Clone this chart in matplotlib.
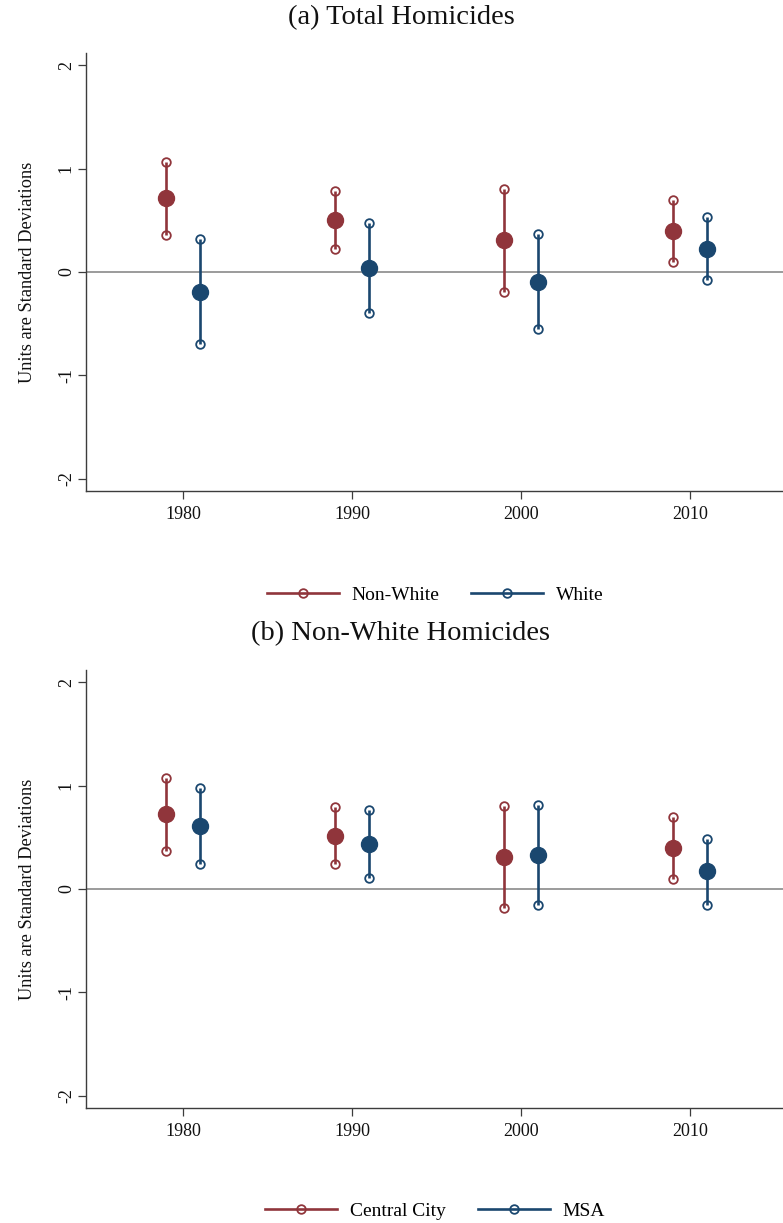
import numpy as np
import matplotlib
matplotlib.use('Agg')
from matplotlib import pyplot as plt
from matplotlib.lines import Line2D

plt.rcParams['font.family'] = ['Liberation Serif', 'DejaVu Serif']

# data

years = [1980, 1990, 2000, 2010]

# (a) Total Homicides
a_nonwhite = [0.715, 0.505, 0.306, 0.396]
a_nonwhite_lo = [0.362, 0.225, -0.190, 0.094]
a_nonwhite_hi = [1.066, 0.782, 0.800, 0.696]
a_white = [-0.190, 0.039, -0.094, 0.225]
a_white_lo = [-0.696, -0.396, -0.554, -0.080]
a_white_hi = [0.319, 0.473, 0.370, 0.528]

# (b) Non-White Homicides
b_city = [0.72, 0.51, 0.31, 0.40]
b_city_lo = [0.37, 0.24, -0.18, 0.10]
b_city_hi = [1.07, 0.79, 0.80, 0.70]
b_msa = [0.61, 0.43, 0.33, 0.17]
b_msa_lo = [0.24, 0.11, -0.15, -0.15]
b_msa_hi = [0.98, 0.76, 0.81, 0.48]

titles = ['(a) Total Homicides', '(b) Non-White Homicides']
legend_labels = [['Non-White', 'White'], ['Central City', 'MSA']]
ylabel = 'Units are Standard Deviations'

red = '#90353b'
blue = '#1a476f'
axis_col = '#3c3c3c'


def draw_series(ax, xs, est, lo, hi, color):
    ax.vlines(xs, lo, hi, color = color, linewidth = 1.9, zorder = 3)
    ax.plot(xs, lo, 'o', ms = 6.2, mfc = 'none', mec = color, mew = 1.3, zorder = 4)
    ax.plot(xs, hi, 'o', ms = 6.2, mfc = 'none', mec = color, mew = 1.3, zorder = 4)
    ax.plot(xs, est, 'o', ms = 11.5, color = color, zorder = 5)


def panel(ax, s1, s2, labels, legend_y):
    x = np.array(years, dtype = float)
    ax.axhline(0, color = '#8a8a8a', linewidth = 1.2, zorder = 1)
    # red one year before the tick, blue one year after
    draw_series(ax, x - 1, *s1, red)
    draw_series(ax, x + 1, *s2, blue)

    ax.set_xlim(1974.26, 2015.5)
    ax.set_ylim(-2.116, 2.116)
    ax.set_xticks(years)
    ax.set_yticks([-2, -1, 0, 1, 2])
    ax.set_yticklabels(['-2', '-1', '0', '1', '2'], rotation = 90, va = 'center')
    ax.tick_params(axis = 'both', direction = 'out', length = 5.5, width = 0.9,
                   color = axis_col, labelsize = 13, labelcolor = '#111111')
    ax.tick_params(axis = 'x', pad = 5)
    ax.tick_params(axis = 'y', pad = 2.5)
    ax.set_ylabel(ylabel, fontsize = 13.2, labelpad = 16, color = '#111111')
    for side in ['top', 'right']:
        ax.spines[side].set_visible(False)
    for side in ['left', 'bottom']:
        ax.spines[side].set_color(axis_col)
        ax.spines[side].set_linewidth(1.0)

    handles = [Line2D([], [], color = red, lw = 1.9, marker = 'o', ms = 6.2, mfc = 'none', mec = red, mew = 1.3),
               Line2D([], [], color = blue, lw = 1.9, marker = 'o', ms = 6.2, mfc = 'none', mec = blue, mew = 1.3)]
    ax.legend(handles, labels, loc = 'center', bbox_to_anchor = (435 / 783, legend_y), ncol = 2,
              frameon = False, fontsize = 14, handlelength = 3.7, handletextpad = 0.65,
              columnspacing = 1.65, bbox_transform = ax.figure.transFigure)


fig = plt.figure(figsize = (7.83, 12.23), dpi = 100)

ax1 = fig.add_axes([86 / 783, (1223 - 491) / 1223, 1 - 86 / 783, 438 / 1223])
ax2 = fig.add_axes([86 / 783, (1223 - 1108) / 1223, 1 - 86 / 783, 438 / 1223])

panel(ax1, (a_nonwhite, a_nonwhite_lo, a_nonwhite_hi), (a_white, a_white_lo, a_white_hi),
      legend_labels[0], 1 - 595 / 1223)
panel(ax2, (b_city, b_city_lo, b_city_hi), (b_msa, b_msa_lo, b_msa_hi),
      legend_labels[1], 1 - 1211 / 1223)

fig.text(401 / 783, 1 - 18 / 1223, titles[0], ha = 'center', va = 'center', fontsize = 20.5, color = '#111111')
fig.text(401 / 783, 1 - 634 / 1223, titles[1], ha = 'center', va = 'center', fontsize = 20.5, color = '#111111')

fig.savefig('out.png', dpi = 100)
